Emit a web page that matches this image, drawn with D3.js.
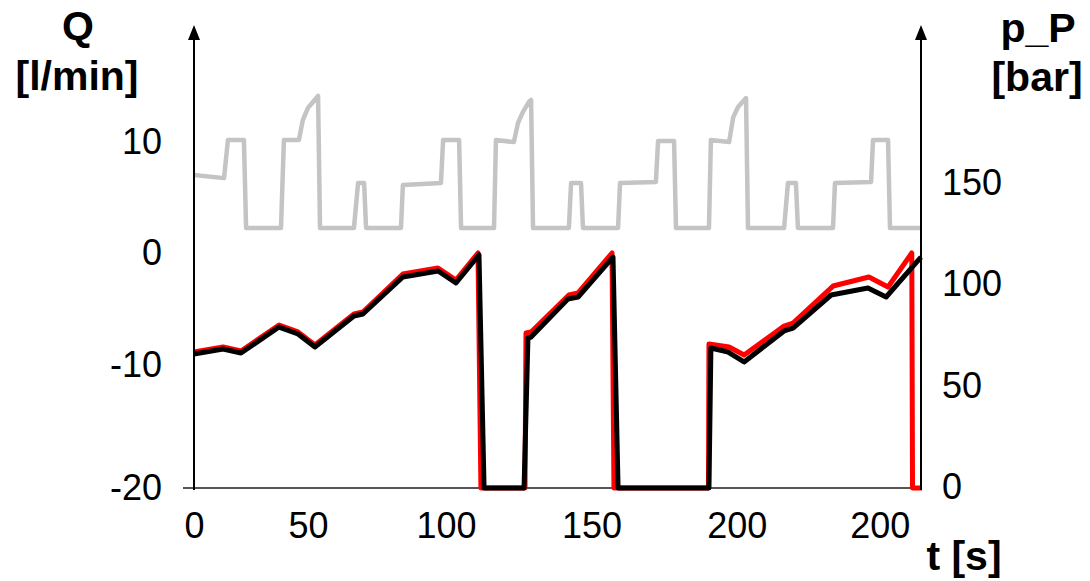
<!DOCTYPE html>
<html>
<head>
<meta charset="utf-8">
<script src="https://cdn.jsdelivr.net/npm/d3@7"></script>
<style>
  body { margin: 0; background: #fff; }
  svg { display: block; font-family: "Liberation Sans", Arial, sans-serif; }
</style>
</head>
<body>
<div id="chart"></div>
<script>
// time ticks (label text does not follow the spacing in the source figure)
const tTicks = [0, 47, 104, 164, 224, 283];
const tLabels = ["0", "50", "100", "150", "200", "200"];
const qTicks = [-20, -10, 0, 10];
const pTicks = [0, 50, 100, 150];

// pressure p_P [bar] over t [s]
const pressure = [[0, 153.9], [12.4, 152.4], [14, 171.2], [20.6, 171.2], [21.5, 127.8], [35.9, 127.8],
  [37.1, 171.2], [43.3, 171.2], [44.9, 181], [47, 187], [49.1, 190], [51.2, 193], [52, 127.8],
  [66, 127.8], [67.7, 150], [70.2, 150], [71, 127.8], [85.4, 127.8], [86.2, 149], [101.9, 150],
  [102.8, 171.2], [109.4, 171.2], [110.2, 127.8], [123.8, 127.8], [124.6, 171.2], [132, 170.2],
  [133.7, 179.6], [135.7, 185], [138.2, 190], [139.1, 191], [139.9, 127.8], [154.7, 127.8],
  [155.6, 150], [159.7, 150], [160.5, 127.8], [175, 127.8], [175.8, 150], [190.6, 150.5],
  [191.5, 170.7], [198.1, 170.7], [198.9, 127.8], [212.5, 127.8], [213.3, 171.2], [220.8, 170.2],
  [222.5, 182.4], [224.5, 187.5], [227.8, 191.9], [228.6, 127.8], [243.5, 127.8], [245.1, 150],
  [248.4, 150], [249.2, 127.8], [263.7, 127.8], [264.5, 150], [279.4, 150.5], [280.2, 171.2],
  [286.4, 171.2], [287.2, 127.8], [300, 127.8]];

// flow Q [l/min], measured (black) and simulated (red)
const qBlack = [[0, -9.02], [12, -8.57], [19.4, -8.93], [35.1, -6.61], [42.9, -7.23], [49.9, -8.39],
  [66, -5.63], [69.7, -5.45], [86.2, -2.14], [100.7, -1.61], [108.1, -2.68], [117.6, -0.18],
  [119.7, -20], [136.2, -20], [137.8, -7.59], [139.1, -7.5], [154.3, -4.11], [158.5, -3.93],
  [172.9, -0.36], [175, -20], [212.5, -20], [213.3, -8.48], [220.4, -8.84], [227, -9.73],
  [243.5, -6.96], [247.2, -6.7], [262.9, -3.75], [278.1, -3.13], [285.6, -3.93], [300, -0.36]];
const qRed = [[0, -8.84], [12, -8.39], [19.4, -8.75], [35.1, -6.43], [42.9, -7.05], [49.9, -8.21],
  [66, -5.45], [69.7, -5.27], [86.2, -1.88], [100.7, -1.34], [108.1, -2.41], [117.2, 0],
  [118.4, -20], [136.6, -20], [137, -7.14], [139.1, -7.05], [154.7, -3.75], [158.5, -3.57],
  [172.5, 0], [173.3, -20], [212.3, -20], [212.5, -8.13], [220.8, -8.39], [227, -9.11],
  [243.5, -6.52], [247.2, -6.25], [263.7, -2.95], [278.5, -2.14], [286.4, -3.04], [296.2, 0],
  [296.5, -20], [300.4, -20]];

const width = 1090, height = 581;
const x0 = 194, x1 = 921, yBase = 488, yTop = 25;

const svg = d3.select("#chart").append("svg")
  .attr("width", width)
  .attr("height", height);

const x = d3.scaleLinear().domain([0, 300]).range([x0, x1]);
// the left axis labels are not evenly spaced in the source, so the scale is piecewise
const yQ = d3.scaleLinear().domain([-20, -10, 0, 10]).range([yBase, 365, 253, 142]);
const yP = d3.scaleLinear().domain([0, 150]).range([487, 183]);

//Baseline
svg.append("line")
  .attr("x1", x0 - 11).attr("x2", x1)
  .attr("y1", yBase).attr("y2", yBase)
  .attr("stroke", "#555").attr("stroke-width", 2);

//Curves
const line = d3.line().x(d => x(d[0]));

svg.append("path")
  .datum(pressure)
  .attr("d", line.y(d => yP(d[1])))
  .attr("fill", "none")
  .attr("stroke", "#c4c4c4")
  .attr("stroke-width", 4.5)
  .attr("stroke-linejoin", "round");

svg.append("path")
  .datum(qRed)
  .attr("d", line.y(d => yQ(d[1])))
  .attr("fill", "none")
  .attr("stroke", "#ff0000")
  .attr("stroke-width", 5)
  .attr("stroke-linejoin", "round");

svg.append("path")
  .datum(qBlack)
  .attr("d", line.y(d => yQ(d[1])))
  .attr("fill", "none")
  .attr("stroke", "#000")
  .attr("stroke-width", 5)
  .attr("stroke-linejoin", "round");

//Axis lines with arrow heads
[x0, x1].forEach(ax => {
  svg.append("line")
    .attr("x1", ax).attr("x2", ax)
    .attr("y1", yBase + 2).attr("y2", yTop + 10)
    .attr("stroke", "#000").attr("stroke-width", 2);
  svg.append("polygon")
    .attr("points", `${ax},${yTop} ${ax - 6},${yTop + 15} ${ax + 6},${yTop + 15}`)
    .attr("fill", "#000");
});

//Tick labels
const xAxis = svg.append("g")
  .attr("transform", `translate(0,${yBase + 24})`)
  .call(d3.axisBottom(x).tickValues(tTicks).tickSize(0).tickPadding(0)
    .tickFormat((d, i) => tLabels[i]));

const leftAxis = svg.append("g")
  .attr("transform", `translate(${x0 - 32},0)`)
  .call(d3.axisLeft(yQ).tickValues(qTicks).tickSize(0).tickPadding(0)
    .tickFormat(d => String(d)));

const rightAxis = svg.append("g")
  .attr("transform", `translate(${x1 + 21},0)`)
  .call(d3.axisRight(yP).tickValues(pTicks).tickSize(0).tickPadding(0));

[xAxis, leftAxis, rightAxis].forEach(g => {
  g.select(".domain").remove();
  g.selectAll("text")
    .attr("font-family", "Liberation Sans, Arial, sans-serif")
    .attr("font-size", 36)
    .attr("fill", "#000");
});
xAxis.selectAll("text").attr("dy", "0.71em");

//Axis titles
const title = (txt, tx, ty) => svg.append("text")
  .attr("x", tx).attr("y", ty)
  .attr("text-anchor", "middle")
  .attr("font-weight", "bold")
  .attr("font-size", 41)
  .attr("fill", "#000")
  .text(txt);

title("Q", 78, 40);
title("[l/min]", 77, 90);
title("p_P", 1038, 42);
title("[bar]", 1037, 91);
title("t [s]", 964, 570);
</script>
</body>
</html>
